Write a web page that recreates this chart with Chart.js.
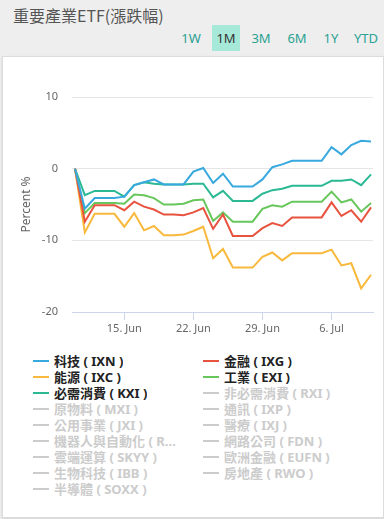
<!DOCTYPE html>
<html>
<head>
<meta charset="utf-8">
<script src="https://cdn.jsdelivr.net/npm/chart.js@4"></script>
<style>
  body {
    margin: 0;
    width: 384px;
    height: 519px;
    background: #eeeeee;
    font-family: "Noto Sans", "Noto Sans CJK TC", sans-serif;
    position: relative;
    overflow: hidden;
  }
  #title {
    position: absolute;
    left: 13px;
    top: 3px;
    font-size: 16px;
    color: #555;
    font-family: "Noto Sans CJK TC", sans-serif;
  }
  .btn {
    position: absolute;
    top: 25px;
    height: 26px;
    line-height: 26px;
    font-size: 13px;
    color: #2aa192;
    text-align: center;
  }
  .btn.active {
    background: #a6e9d9;
    color: #333;
  }
  #panel {
    position: absolute;
    left: 2px;
    top: 56px;
    width: 380px;
    height: 460px;
    background: #fff;
    border: 1px solid #dcdcdc;
    box-shadow: 0 1px 2px rgba(0,0,0,0.12);
  }
  #chartBox {
    position: absolute;
    left: 3px;
    top: 57px;
    width: 380px;
    height: 280px;
  }
  #legend {
    position: absolute;
    left: 33px;
    top: 353px;
    width: 340px;
  }
  .item {
    float: left;
    width: 170px;
    height: 16px;
    line-height: 16px;
    font-size: 13px;
    font-weight: bold;
    color: #222;
    white-space: nowrap;
    font-family: "Noto Sans", "Noto Sans CJK TC", sans-serif;
  }
  .item.off { color: #cccccc; }
  .sym {
    display: inline-block;
    width: 16px;
    height: 2px;
    vertical-align: middle;
    margin-right: 5px;
    margin-top: -2px;
  }
  .txt {
    display: inline-block;
    max-width: 131px;
    overflow: hidden;
    text-overflow: ellipsis;
    vertical-align: top;
  }
</style>
</head>
<body>
<div id="title">重要產業ETF(漲跌幅)</div>
<div class="btn" style="left:180px;width:22px">1W</div>
<div class="btn active" style="left:212px;width:28px">1M</div>
<div class="btn" style="left:249px;width:24px">3M</div>
<div class="btn" style="left:285px;width:24px">6M</div>
<div class="btn" style="left:320px;width:22px">1Y</div>
<div class="btn" style="left:352px;width:28px">YTD</div>
<div id="panel"></div>
<div id="chartBox"><canvas id="etfChart"></canvas></div>
<div id="legend"></div>

<script>
// daily points, 10 Jun - 10 Jul
const dates = [
  "2020-06-10", "2020-06-11", "2020-06-12", "2020-06-13", "2020-06-14",
  "2020-06-15", "2020-06-16", "2020-06-17", "2020-06-18", "2020-06-19",
  "2020-06-20", "2020-06-21", "2020-06-22", "2020-06-23", "2020-06-24",
  "2020-06-25", "2020-06-26", "2020-06-27", "2020-06-28", "2020-06-29",
  "2020-06-30", "2020-07-01", "2020-07-02", "2020-07-03", "2020-07-04",
  "2020-07-05", "2020-07-06", "2020-07-07", "2020-07-08", "2020-07-09",
  "2020-07-10"
];

const tickDates = ["2020-06-15", "2020-06-22", "2020-06-29", "2020-07-06"];
const tickLabels = ["15. Jun", "22. Jun", "29. Jun", "6. Jul"];
const yTicks = [-20, -10, 0, 10];

const ixn = [0, -5.6, -4.1, -4.1, -4.1, -3.9, -2.3, -1.9, -1.5, -2.2, -2.2,
  -2.2, -0.4, 0.1, -2.0, -0.7, -2.5, -2.5, -2.5, -1.5, 0.2,
  0.6, 1.1, 1.1, 1.1, 1.1, 3.0, 2.0, 3.3, 3.9, 3.8];
const ixg = [0, -7.4, -5.1, -5.1, -5.1, -5.8, -4.6, -5.3, -5.7, -6.4, -6.4,
  -6.5, -6.1, -5.5, -8.4, -6.4, -9.4, -9.4, -9.4, -8.3, -7.6,
  -8.0, -6.8, -6.8, -6.8, -6.8, -4.7, -6.6, -5.8, -7.4, -5.4];
const ixc = [0, -8.9, -6.3, -6.3, -6.3, -8.1, -6.2, -8.6, -8.0, -9.3, -9.3,
  -9.2, -8.7, -8.1, -12.5, -11.2, -13.8, -13.8, -13.8, -12.3, -11.7,
  -12.8, -11.8, -11.8, -11.8, -11.8, -11.3, -13.5, -13.2, -16.7, -14.8];
const exi = [0, -6.2, -4.8, -4.8, -4.8, -4.9, -3.6, -3.7, -4.1, -5.0, -5.0,
  -4.9, -4.4, -4.3, -7.3, -6.1, -7.4, -7.4, -7.4, -5.6, -5.1,
  -5.3, -4.6, -4.6, -4.6, -4.6, -3.2, -4.7, -4.3, -6.0, -4.8];
const kxi = [0, -3.7, -3.1, -3.1, -3.1, -3.9, -2.3, -1.9, -2.1, -2.2, -2.2,
  -2.2, -2.1, -2.1, -4.0, -3.1, -4.5, -4.5, -4.5, -3.5, -3.0,
  -2.8, -2.4, -2.4, -2.4, -2.4, -1.7, -1.7, -1.5, -2.3, -0.8];

// legend order, row by row in two columns
const legendNames = [
  "科技 ( IXN )", "金融 ( IXG )", "能源 ( IXC )", "工業 ( EXI )",
  "必需消費 ( KXI )", "非必需消費 ( RXI )", "原物料 ( MXI )", "通訊 ( IXP )",
  "公用事業 ( JXI )", "醫療 ( IXJ )", "機器人與自動化 ( ROBO )", "網路公司 ( FDN )",
  "雲端運算 ( SKYY )", "歐洲金融 ( EUFN )", "生物科技 ( IBB )", "房地產 ( RWO )",
  "半導體 ( SOXX )"
];

const shown = [
  { name: "科技 ( IXN )", data: ixn, color: "#38a9df" },
  { name: "金融 ( IXG )", data: ixg, color: "#e8533f" },
  { name: "能源 ( IXC )", data: ixc, color: "#f8b93c" },
  { name: "工業 ( EXI )", data: exi, color: "#68c75c" },
  { name: "必需消費 ( KXI )", data: kxi, color: "#2bb994" }
];

Chart.defaults.font.family = '"Noto Sans", "Noto Sans CJK TC", sans-serif';
Chart.defaults.color = "#666";

const ctx = document.getElementById("etfChart").getContext("2d");
const etfChart = new Chart(ctx, {
  type: "line",
  data: {
    datasets: shown.map(s => ({
      label: s.name,
      data: s.data.map((v, i) => ({ x: i, y: v })),
      borderColor: s.color,
      borderWidth: 2,
      pointRadius: 0,
      tension: 0,
      fill: false
    }))
  },
  options: {
    responsive: true,
    maintainAspectRatio: false,
    animation: false,
    layout: { padding: { top: 40, left: 12, right: 10, bottom: 0 } },
    plugins: {
      legend: { display: false },
      tooltip: { enabled: false }
    },
    scales: {
      x: {
        type: "linear",
        min: -0.3,
        max: dates.length - 0.8,
        afterBuildTicks: scale => {
          scale.ticks = tickDates.map(d => ({ value: dates.indexOf(d) }));
        },
        afterFit: scale => { scale.height = 25; },
        ticks: {
          autoSkip: false,
          maxRotation: 0,
          padding: 2,
          font: { size: 11 },
          color: "#666",
          callback: (v) => tickLabels[tickDates.indexOf(dates[v])]
        },
        grid: {
          drawOnChartArea: false,
          drawTicks: true,
          tickLength: 8,
          color: "#ccd6eb"
        },
        border: { display: true, color: "#ccd6eb" }
      },
      y: {
        min: -20,
        max: 10,
        afterBuildTicks: scale => {
          scale.ticks = yTicks.map(v => ({ value: v }));
        },
        afterFit: scale => { scale.width = 57; },
        ticks: { padding: 14, font: { size: 11 }, color: "#666" },
        grid: { color: "#e6e6e6", drawTicks: false },
        border: { display: false },
        title: {
          display: true,
          text: "Percent %",
          font: { size: 12 },
          color: "#666"
        }
      }
    }
  }
});

// html legend, two columns
const legendEl = document.getElementById("legend");
legendNames.forEach(name => {
  const s = shown.find(d => d.name === name);
  const item = document.createElement("div");
  item.className = "item" + (s ? "" : " off");
  const sym = document.createElement("span");
  sym.className = "sym";
  sym.style.background = s ? s.color : "#cccccc";
  const txt = document.createElement("span");
  txt.className = "txt";
  txt.textContent = name;
  item.appendChild(sym);
  item.appendChild(txt);
  legendEl.appendChild(item);
});
</script>
</body>
</html>
